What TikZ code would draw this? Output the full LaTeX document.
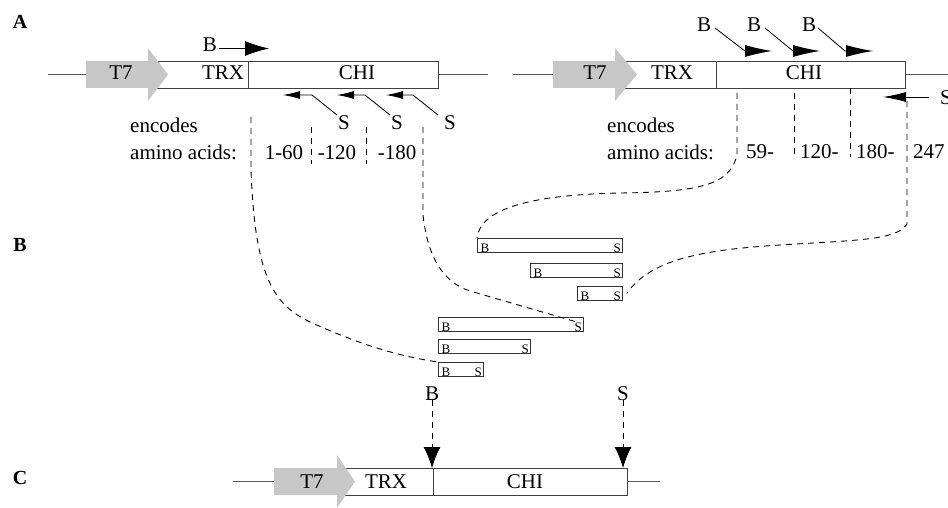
\documentclass[tikz,border=0pt]{standalone}
\usepackage{fontspec}
\setmainfont{Liberation Serif}
\usetikzlibrary{arrows.meta}
\begin{document}
\begin{tikzpicture}[x=1pt,y=-1pt,
  txt/.style={font=\fontsize{21}{25}\selectfont, inner sep=0pt, anchor=base},
  sm/.style={font=\fontsize{13}{15}\selectfont, inner sep=0pt},
  lab/.style={font=\bfseries\fontsize{20}{24}\selectfont, inner sep=0pt, anchor=base},
  axis/.style={draw=black!65, line width=0.9pt},
  box/.style={draw=black!75, line width=0.9pt, minimum height=27pt, inner sep=0pt, anchor=west},
  frag/.style={draw=black!80, line width=0.8pt, minimum height=14pt, inner sep=0pt, anchor=north west},
  t7/.style={fill=black!22},
  dl/.style={line width=0.9pt, dash pattern=on 6pt off 5pt},
  ln/.style={line width=0.8pt},
  bigB/.style={ln, -{Latex[length=24pt,width=15pt]}},
  rB/.style={ln, -{Latex[length=27pt,width=12pt]}},
  smS/.style={ln, -{Latex[length=17pt,width=8pt]}},
  rS/.style={ln, -{Latex[length=23pt,width=10pt]}},
  downA/.style={dl, -{Latex[length=21pt,width=17pt]}},
]
\useasboundingbox (0,0) rectangle (948,508);

% panel labels
\node[lab] (labA) at (20,29) {A};
\node[lab] (labB) at (20,251) {B};
\node[lab] (labC) at (20,484) {C};

% ===== construct A (left) =====
\coordinate (aL) at (48,74.5);
\coordinate (aR) at (488,74.5);
\node[box, minimum width=100pt] (trxA) at (148,74.5) {};
\node[box, minimum width=190pt] (chiA) at (248,74.5) {};
\draw[axis] (aL) -- (trxA.west);
\draw[axis] (chiA.east) -- (aR);
\fill[t7] (86,61) -- (148,61) -- (148,48) -- (168,74.5) -- (148,101) -- (148,88) -- (86,88) -- cycle;
\node[txt] (t7A) at (121,80) {T7};
\node[txt] (trxAt) at (223,80) {TRX};
\node[txt] (chiAt) at (357,80) {CHI};

% B primer (left)
\node[txt] (bA) at (210,52) {B};
\coordinate (bAs) at (219,48.5);
\coordinate (bAt) at (269,48.5);
\draw[bigB] (bAs) -- (bAt);

% S primers (left)
\node[txt] (sA1) at (344,130) {S};
\node[txt] (sA2) at (397,130) {S};
\node[txt] (sA3) at (450,130) {S};
\coordinate (sA1a) at (337,115); \coordinate (sA1b) at (312,95); \coordinate (sA1c) at (283,95);
\coordinate (sA2a) at (390,115); \coordinate (sA2b) at (365,95); \coordinate (sA2c) at (337,95);
\coordinate (sA3a) at (438,115); \coordinate (sA3b) at (413,95); \coordinate (sA3c) at (386,95);
\draw[smS] (sA1a) -- (sA1b) -- (sA1c);
\draw[smS] (sA2a) -- (sA2b) -- (sA2c);
\draw[smS] (sA3a) -- (sA3b) -- (sA3c);

\node[txt, anchor=base west] (encA) at (130,133) {encodes};
\node[txt, anchor=base west] (aaA) at (130,160) {amino acids:};
\node[txt] (n160) at (284,160) {1-60};
\node[txt] (n120) at (337,160) {-120};
\node[txt] (n180) at (397,160) {-180};

% dashed dividers (left)
\coordinate (dA1) at (251,117);
\coordinate (dA2t) at (311,127); \coordinate (dA2b) at (311,164);
\coordinate (dA3t) at (366,127); \coordinate (dA3b) at (366,164);
\coordinate (dA4) at (423,127);
\draw[dl] (dA2t) -- (dA2b);
\draw[dl] (dA3t) -- (dA3b);

% ===== construct B (right) =====
\coordinate (bL) at (513,74.5);
\coordinate (bR) at (952,74.5);
\node[box, minimum width=101pt] (trxB) at (615,74.5) {};
\node[box, minimum width=189pt] (chiB) at (716,74.5) {};
\draw[axis] (bL) -- (trxB.west);
\draw[axis] (chiB.east) -- (bR);
\fill[t7] (553,61) -- (615,61) -- (615,48) -- (637,74.5) -- (615,101) -- (615,88) -- (553,88) -- cycle;
\node[txt] (t7B) at (595,80) {T7};
\node[txt] (trxBt) at (672,80) {TRX};
\node[txt] (chiBt) at (804,80) {CHI};

% B primers (right)
\node[txt] (bB1) at (704,32) {B};
\node[txt] (bB2) at (754,32) {B};
\node[txt] (bB3) at (809,32) {B};
\coordinate (bB1a) at (715,28); \coordinate (bB1b) at (745,51); \coordinate (bB1c) at (772,51);
\coordinate (bB2a) at (765,28); \coordinate (bB2b) at (793,51); \coordinate (bB2c) at (820,51);
\coordinate (bB3a) at (818,28); \coordinate (bB3b) at (845,51); \coordinate (bB3c) at (873,51);
\draw[rB] (bB1a) -- (bB1b) -- (bB1c);
\draw[rB] (bB2a) -- (bB2b) -- (bB2c);
\draw[rB] (bB3a) -- (bB3b) -- (bB3c);

% S primer (right)
\node[txt] (sB) at (946,105) {S};
\coordinate (sBa) at (929,97); \coordinate (sBb) at (883,97);
\draw[rS] (sBa) -- (sBb);

\node[txt, anchor=base west] (encB) at (607,133) {encodes};
\node[txt, anchor=base west] (aaB) at (607,160) {amino acids:};
\node[txt, anchor=base west] (n59) at (746,159) {59-};
\node[txt, anchor=base west] (n120b) at (800,159) {120-};
\node[txt, anchor=base west] (n180b) at (856,159) {180-};
\node[txt, anchor=base west] (n247) at (913,159) {247};

\coordinate (dB1) at (737,93);
\coordinate (dB2t) at (794,93); \coordinate (dB2b) at (794,157);
\coordinate (dB3t) at (850,88); \coordinate (dB3b) at (850,157);
\coordinate (dB4) at (907,101);
\draw[dl] (dB2t) -- (dB2b);
\draw[dl] (dB3t) -- (dB3b);

% ===== fragments =====
\node[frag, minimum width=145pt] (f1) at (477,238) {};
\node[frag, minimum width=92pt]  (f2) at (530,263) {};
\node[frag, minimum width=45pt]  (f3) at (577,286) {};
\node[frag, minimum width=145pt] (f4) at (438,317) {};
\node[frag, minimum width=92pt]  (f5) at (438,339) {};
\node[frag, minimum width=45pt]  (f6) at (438,362) {};
\foreach \f in {f1,f2,f3,f4,f5,f6}{
  \node[sm, anchor=base west] (\f B) at ([shift={(3.5,-0.6)}]\f.south west) {B};
  \node[sm, anchor=base east] (\f S) at ([shift={(-1.8,-0.6)}]\f.south east) {S};
}

% ===== dashed curves =====
\draw[dl] (dA1) -- (251,170) .. controls (255,280) and (275,305) .. (310,322)
          .. controls (350,340) and (390,355) .. (f6.north west);
\draw[dl] (dA4) -- (423,215) .. controls (428,260) and (445,283) .. (470,291) -- (f4S.north);
\draw[dl] (dB1) -- (737,155) .. controls (730,185) and (700,192) .. (620,193)
          .. controls (520,195) and (480,212) .. (f1.north west);
\draw[dl] (dB4) -- (907,224) .. controls (897,240) and (860,240) .. (780,245)
          .. controls (700,250) and (650,260) .. ([shift={(4,0)}]f3.east);

% ===== construct C (bottom) =====
\coordinate (cL) at (233,481.5);
\coordinate (cR) at (660,481.5);
\node[box, minimum width=96pt] (trxC) at (337,481.5) {};
\node[box, minimum width=194pt] (chiC) at (433,481.5) {};
\draw[axis] (cL) -- (trxC.west);
\draw[axis] (chiC.east) -- (cR);
\fill[t7] (274,468) -- (337,468) -- (337,455) -- (355,481.5) -- (337,508) -- (337,495) -- (274,495) -- cycle;
\node[txt] (t7C) at (312,488) {T7};
\node[txt] (trxCt) at (386,488) {TRX};
\node[txt] (chiCt) at (525,488) {CHI};

\node[txt] (bC) at (432,400) {B};
\node[txt] (sC) at (623,400) {S};
\coordinate (bCt) at (432,468);
\coordinate (sCt) at (623,468);
\draw[downA] (bC.south) -- (bCt);
\draw[downA] (sC.south) -- (sCt);

\end{tikzpicture}
\end{document}
